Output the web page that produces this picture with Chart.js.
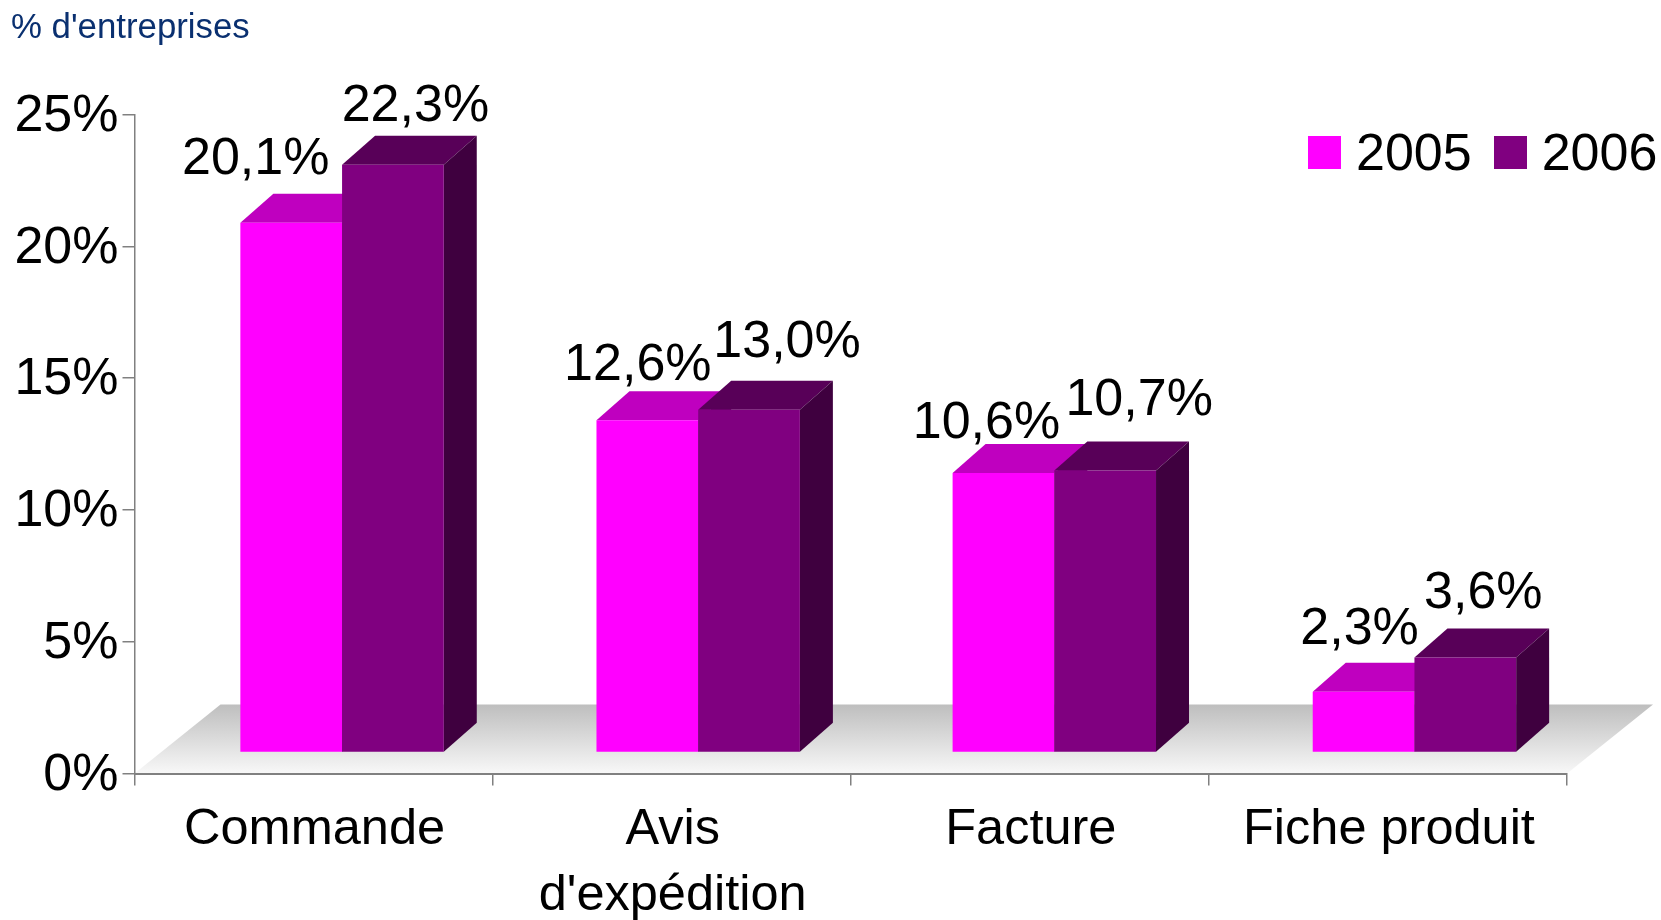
<!DOCTYPE html>
<html lang="fr">
<head>
<meta charset="utf-8">
<title>% d'entreprises</title>
<style>
  html, body { margin: 0; background: #fff; }
  #wrap { position: relative; width: 1661px; height: 920px; overflow: hidden; font-family: "Liberation Sans", Arial, sans-serif; }
  #yTitle { position: absolute; left: 11px; top: 6px; font-size: 34.8px; line-height: 40px; color: #0a3070; }
  #legend { position: absolute; left: 1308px; top: 122px; display: flex; align-items: center; font-size: 52px; line-height: 60px; color: #000; }
  #legend .sw { width: 33px; height: 33px; margin-right: 15px; }
  #legend .txt { margin-right: 22px; }
  canvas { display: block; }
</style>
</head>
<body>
<div id="wrap">
  <canvas id="chart" width="1661" height="920"></canvas>
  <div id="yTitle">% d'entreprises</div>
  <div id="legend"></div>
</div>
<script src="https://cdn.jsdelivr.net/npm/chart.js@4/dist/chart.umd.min.js"></script>
<script>
// ── Data
const categories = ['Commande', ['Avis', "d'expédition"], 'Facture', 'Fiche produit'];
const years      = ['2005', '2006'];
const values2005 = [20.1, 12.6, 10.6, 2.3];
const values2006 = [22.3, 13.0, 10.7, 3.6];

// ── Colours: front, top and side face of each series
const FACES = [
  { front: '#ff00ff', top: '#bf00bf', side: '#800080' },
  { front: '#800080', top: '#580058', side: '#3f003f' },
];

// ── Fake 3D: bars stand on the floor, away from the axis line
const BAR_SHIFT  = { x: 26.5, y: -21 };
const BAR_DEPTH  = { x: 33, y: -29 };
const FLOOR_DEPTH = { x: 86, y: -69 };
// The original spaces its groups a little unevenly
const GROUP_NUDGE = [2, 0, -2, 0];

// ── Hand-placed value labels [dx, dy] from the top centre of each front face
const LABEL_NUDGE = [
  [[-33.5, -63], [-9.5, -55], [-19, -49], [-4, -62]],
  [[24.5, -58], [38, -67], [32, -70], [18, -64]],
];

const FONT = '"Liberation Sans", Arial, sans-serif';

function fillFace(ctx, points, color) {
  ctx.beginPath();
  points.forEach((p, i) => i ? ctx.lineTo(p[0], p[1]) : ctx.moveTo(p[0], p[1]));
  ctx.closePath();
  ctx.fillStyle = color;
  ctx.fill();
}

const floorPlugin = {
  id: 'floor',
  beforeDraw(chart) {
    const { ctx, chartArea: a } = chart;
    const grad = ctx.createLinearGradient(0, a.bottom + FLOOR_DEPTH.y, 0, a.bottom);
    grad.addColorStop(0, '#bebebe');
    grad.addColorStop(1, '#f8f8f8');
    fillFace(ctx, [
      [a.left, a.bottom],
      [a.left + FLOOR_DEPTH.x, a.bottom + FLOOR_DEPTH.y],
      [a.right + FLOOR_DEPTH.x, a.bottom + FLOOR_DEPTH.y],
      [a.right, a.bottom],
    ], grad);
  },
};

const boxPlugin = {
  id: 'box3d',
  // Chart.js paints the last dataset first; the boxes need left to right, so paint them here
  beforeDatasetsDraw(chart) {
    const ctx = chart.ctx;
    chart.data.labels.forEach((_, i) => {
      ctx.save();
      ctx.translate(BAR_SHIFT.x + GROUP_NUDGE[i], BAR_SHIFT.y);
      chart.data.datasets.forEach((ds, d) => {
        const bar = chart.getDatasetMeta(d).data[i];
        const { x, y, base, width } = bar.getProps(['x', 'y', 'base', 'width'], true);
        const l = x - width / 2, r = x + width / 2;
        const dx = BAR_DEPTH.x, dy = BAR_DEPTH.y;
        fillFace(ctx, [[l, y], [l + dx, y + dy], [r + dx, y + dy], [r, y]], FACES[d].top);
        fillFace(ctx, [[r, y], [r + dx, y + dy], [r + dx, base + dy], [r, base]], FACES[d].side);
        bar.draw(ctx);
      });
      ctx.restore();
    });
    return false;
  },
  afterDraw(chart) {
    const ctx = chart.ctx;
    ctx.save();
    ctx.font = '52px ' + FONT;
    ctx.fillStyle = '#000';
    ctx.textAlign = 'center';
    ctx.textBaseline = 'middle';
    chart.data.datasets.forEach((ds, d) => {
      chart.getDatasetMeta(d).data.forEach((bar, i) => {
        const text = ds.data[i].toFixed(1).replace('.', ',') + '%';
        const nudge = LABEL_NUDGE[d][i];
        ctx.fillText(text, bar.x + BAR_SHIFT.x + nudge[0], bar.y + BAR_SHIFT.y + nudge[1]);
      });
    });
    ctx.restore();
  },
};

Chart.defaults.font.family = FONT;

new Chart(document.getElementById('chart'), {
  type: 'bar',
  data: {
    labels: categories,
    datasets: [
      { label: years[0], data: values2005, backgroundColor: FACES[0].front, borderWidth: 0 },
      { label: years[1], data: values2006, backgroundColor: FACES[1].front, borderWidth: 0 },
    ],
  },
  options: {
    responsive: false,
    animation: false,
    barPercentage: 1,
    categoryPercentage: 0.568,
    layout: { padding: { top: 114.5, right: 94, left: 0, bottom: 0 } },
    plugins: { legend: { display: false }, title: { display: false }, tooltip: { enabled: false } },
    scales: {
      x: {
        afterFit: s => { s.height = 146.5; },
        grid: { drawOnChartArea: false, color: '#808080', tickLength: 12, lineWidth: 1.5 },
        border: { color: '#808080', width: 2 },
        ticks: { color: '#000', padding: 12, labelOffset: 1, maxRotation: 0, autoSkip: false, font: { size: 50.5, lineHeight: 1.3 } },
      },
      y: {
        min: 0,
        max: 25,
        afterFit: s => { s.width = 134.5; },
        grid: { drawOnChartArea: false, color: '#808080', tickLength: 12, lineWidth: 1.5 },
        border: { color: '#808080', width: 1.5 },
        ticks: { stepSize: 5, color: '#000', padding: 4, labelOffset: 2, font: { size: 52 }, callback: v => v + '%' },
      },
    },
  },
  plugins: [floorPlugin, boxPlugin],
});

// ── Legend as plain HTML, top right
const legendBox = document.getElementById('legend');
years.forEach((year, i) => {
  const sw = document.createElement('span');
  sw.className = 'sw';
  sw.style.background = FACES[i].front;
  const txt = document.createElement('span');
  txt.className = 'txt';
  txt.textContent = year;
  legendBox.appendChild(sw);
  legendBox.appendChild(txt);
});
</script>
</body>
</html>
